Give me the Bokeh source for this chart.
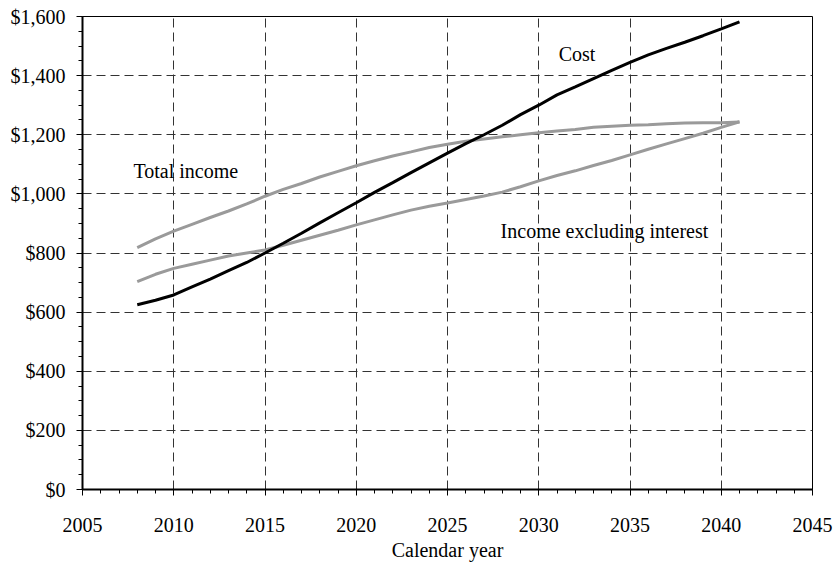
from bokeh.plotting import figure
from bokeh.models import FixedTicker, NumeralTickFormatter, ColumnDataSource
from bokeh.embed import file_html
from bokeh.resources import INLINE
from bokeh.core.properties import value

years = list(range(2008, 2042))
cost = [625, 640, 658, 685, 712, 740, 768, 800, 833, 867, 902, 936, 970, 1005,
        1038, 1072, 1105, 1138, 1170, 1200, 1232, 1268, 1300, 1335, 1362, 1390,
        1418, 1445, 1470, 1492, 1513, 1535, 1558, 1582]
total_income = [818, 848, 874, 897, 920, 942, 966, 992, 1015, 1035, 1057, 1076,
                1095, 1112, 1128, 1142, 1157, 1168, 1178, 1186, 1193, 1200, 1207,
                1213, 1218, 1225, 1229, 1232, 1234, 1237, 1240, 1241, 1241, 1243]
income_excl = [703, 728, 748, 762, 776, 790, 800, 810, 826, 843, 860, 877, 895,
               912, 929, 945, 958, 969, 981, 993, 1006, 1024, 1044, 1062, 1078,
               1096, 1113, 1132, 1151, 1169, 1187, 1205, 1225, 1244]

x_ticks = [2005, 2010, 2015, 2020, 2025, 2030, 2035, 2040, 2045]
y_ticks = [0, 200, 400, 600, 800, 1000, 1200, 1400, 1600]

label_texts = ["Total income", "Cost", "Income excluding interest"]
label_x = [2010.66, 2032.1, 2033.6]
label_y = [1076, 1472, 874]

FONT = "Liberation Serif"

p = figure(frame_width=730, frame_height=473, x_range=(2005, 2045), y_range=(0, 1600),
           output_backend="svg", toolbar_location=None,
           min_border_left=82, min_border_right=23, min_border_top=16, min_border_bottom=20,
           background_fill_color="white", border_fill_color="white")

p.outline_line_color = "black"
p.outline_line_width = 1

p.xaxis.ticker = FixedTicker(ticks=x_ticks, minor_ticks=list(range(2005, 2046)))
p.yaxis.ticker = FixedTicker(ticks=y_ticks, minor_ticks=list(range(0, 1601, 50)))
p.yaxis.formatter = NumeralTickFormatter(format="$0,0")

for ax in (p.xaxis, p.yaxis):
    ax.axis_line_color = "black"
    ax.axis_line_width = 2
    ax.major_tick_line_color = "black"
    ax.minor_tick_line_color = "black"
    ax.major_tick_in = 0
    ax.major_tick_out = 6
    ax.minor_tick_in = 0
    ax.minor_tick_out = 4
    ax.major_label_text_font = FONT
    ax.major_label_text_font_size = "20px"
    ax.major_label_text_color = "black"

p.xaxis.major_label_standoff = 22
p.yaxis.major_label_standoff = 11
p.xaxis.axis_label = "Calendar year"
p.xaxis.axis_label_text_font = FONT
p.xaxis.axis_label_text_font_size = "20px"
p.xaxis.axis_label_text_font_style = "normal"
p.xaxis.axis_label_text_color = "black"
p.xaxis.axis_label_standoff = 4

for g in (p.xgrid, p.ygrid):
    g.grid_line_color = "#333333"
    g.grid_line_dash = "9 5"
    g.grid_line_width = 1

p.line(years, total_income, line_color="#9a9a9a", line_width=3)
p.line(years, income_excl, line_color="#9a9a9a", line_width=3)
p.line(years, cost, line_color="black", line_width=3)

src = ColumnDataSource(dict(x=label_x, y=label_y, t=label_texts))
p.text(x="x", y="y", text="t", source=src, text_font=value(FONT), text_font_size="20px",
       text_align="center", text_baseline="middle", text_color="black")

open("out.html", "w").write(file_html(p, INLINE))
